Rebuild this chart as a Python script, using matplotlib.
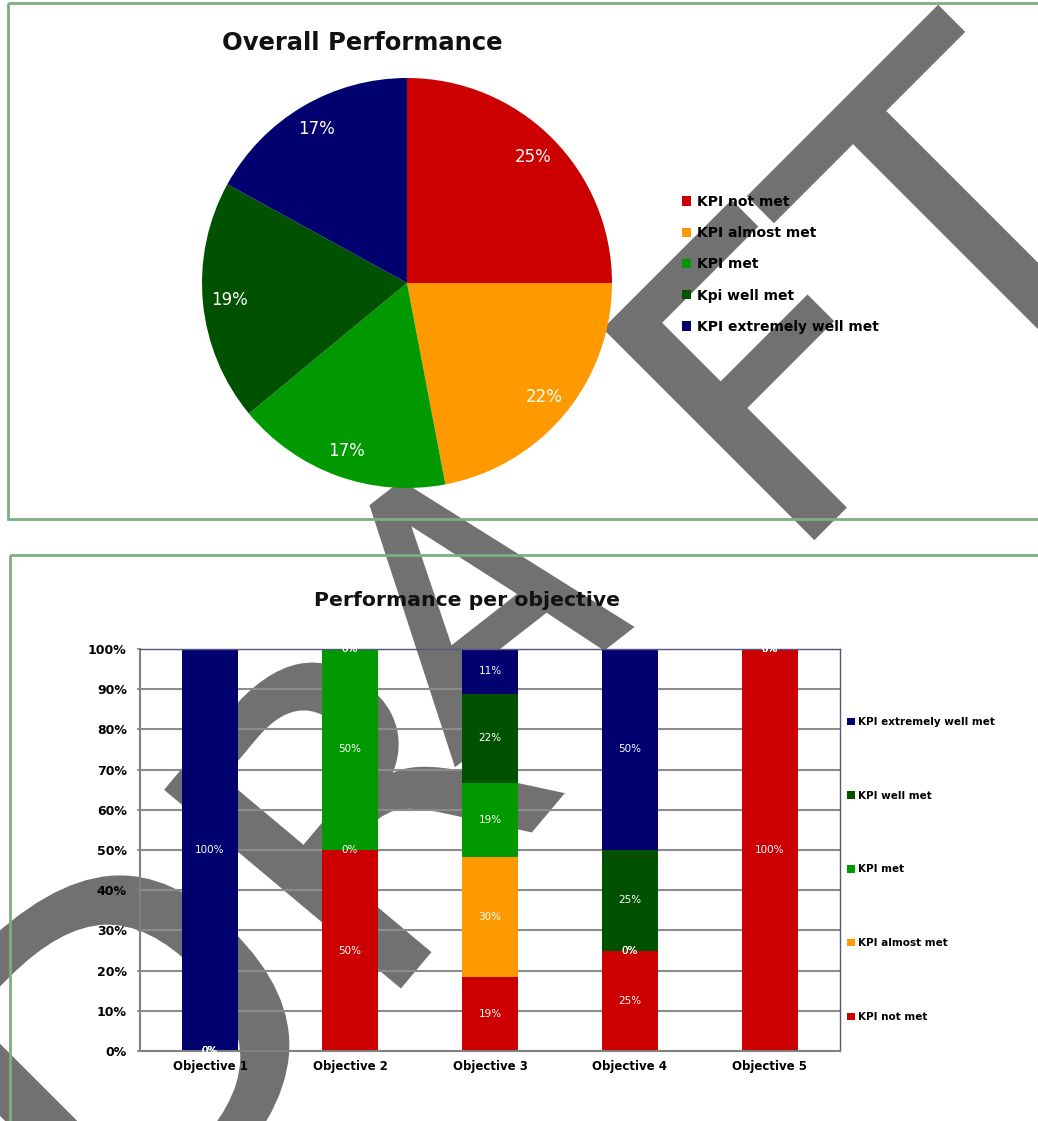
import matplotlib
matplotlib.use("Agg")
import matplotlib.pyplot as plt
import numpy as np
from matplotlib.font_manager import FontProperties
from matplotlib.patches import Patch, PathPatch, Rectangle
from matplotlib.textpath import TextPath
from matplotlib.transforms import Affine2D

# ------------------------------------------------------------
# Data
# ------------------------------------------------------------
kpi_labels = ["KPI not met", "KPI almost met", "KPI met", "Kpi well met", "KPI extremely well met"]
bar_kpi_labels = ["KPI not met", "KPI almost met", "KPI met", "KPI well met", "KPI extremely well met"]
kpi_colors = ["#cc0000", "#ff9900", "#009900", "#005200", "#00006e"]

# overall share of KPIs per status (%)
overall_share = [25, 22, 17, 19, 17]

objectives = ["Objective 1", "Objective 2", "Objective 3", "Objective 4", "Objective 5"]
not_met = [0, 50, 18.52, 25, 100]
almost_met = [0, 0, 29.63, 0, 0]
met = [0, 50, 18.52, 0, 0]
well_met = [0, 0, 22.22, 25, 0]
extremely_well_met = [100, 0, 11.11, 50, 0]

y_ticks = [0, 10, 20, 30, 40, 50, 60, 70, 80, 90, 100]

W, H = 1038, 1121
WM_COLOR = "#717171"
BORDER = "#7fae7f"


def draw_letter(ax, ch, cx, cy, height, angle, stretch=1.05):
    """Big rotated glyph placed in pixel coordinates (y down)."""
    tp = TextPath((0, 0), ch, size=100, prop=FontProperties(family="DejaVu Sans"))
    ext = tp.get_extents()
    s = height / ext.height
    tr = (
        Affine2D()
        .translate(-(ext.x0 + ext.width / 2), -(ext.y0 + ext.height / 2))
        .scale(s * stretch, s)
        .rotate_deg(angle)
        .scale(1, -1)
        .translate(cx, cy)
    )
    ax.add_patch(PathPatch(tr.transform_path(tp), facecolor=WM_COLOR,
                           edgecolor=WM_COLOR, lw=3, joinstyle="miter", zorder=1))


fig = plt.figure(figsize=(W / 100, H / 100), dpi=100)
fig.patch.set_facecolor("white")

# ------------------------------------------------------------
# Page background: watermark + panel frames
# ------------------------------------------------------------
bg = fig.add_axes([0, 0, 1, 1], zorder=-5)
bg.set_xlim(0, W)
bg.set_ylim(H, 0)
bg.axis("off")

# (letter, centre x, centre y, height px, angle, horizontal stretch)
watermark = [
    ("D", 129, 1036, 330, 45, 1.05),
    ("R", 364, 792, 305, 50, 1.05),
    ("A", 465, 595, 255, 38, 0.95),
    ("F", 773, 370, 295, 45, 1.05),
    ("T", 950, 208, 300, 45, 1.05),
]
for ch, cx, cy, h, ang, st in watermark:
    draw_letter(bg, ch, cx, cy, h, ang, st)

bg.add_patch(Rectangle((8, 3), 1045, 516, fill=False, edgecolor=BORDER, lw=2, zorder=3))
bg.add_patch(Rectangle((10, 555), 1045, 600, fill=False, edgecolor=BORDER, lw=2, zorder=3))

# ------------------------------------------------------------
# Pie: overall performance
# ------------------------------------------------------------
ax1 = fig.add_axes([(407 - 205) / W, 1 - (283 + 205) / H, 410 / W, 410 / H])
ax1.pie(
    overall_share,
    colors=kpi_colors,
    startangle=90,
    counterclock=False,
    autopct="%.0f%%",
    pctdistance=0.87,
    textprops=dict(color="white", fontsize=12),
    wedgeprops=dict(linewidth=0),
)
ax1.set_xlim(-1, 1)
ax1.set_ylim(-1, 1)
ax1.set_aspect("equal")
ax1.patch.set_alpha(0)

fig.text(362 / W, 1 - 43 / H, "Overall Performance", ha="center", va="center",
         fontsize=17.5, fontweight="bold", color="#111111")

pie_handles = [Patch(facecolor=c, edgecolor="none", label=l) for c, l in zip(kpi_colors, kpi_labels)]
ax1.legend(
    handles=pie_handles,
    loc="upper left",
    bbox_to_anchor=(682 / W, 1 - 195 / H),
    bbox_transform=fig.transFigure,
    frameon=False,
    prop=dict(size=10, weight="bold"),
    handlelength=0.65,
    handleheight=0.65,
    handletextpad=0.4,
    labelspacing=1.24,
    borderpad=0,
    borderaxespad=0,
)

# ------------------------------------------------------------
# Stacked bars: performance per objective
# ------------------------------------------------------------
ax2 = fig.add_axes([140 / W, 1 - 1051 / H, 700 / W, 402 / H])
ax2.patch.set_alpha(0)

series = [not_met, almost_met, met, well_met, extremely_well_met]
x = np.arange(len(objectives))
bottom = np.zeros(len(objectives))
for vals, color, lab in zip(series, kpi_colors, bar_kpi_labels):
    vals = np.asarray(vals, dtype=float)
    ax2.bar(x, vals, 0.4, bottom=bottom, color=color, label=lab, zorder=2, linewidth=0)
    for xi, b, v in zip(x, bottom, vals):
        ax2.text(xi, b + v / 2, f"{v:.0f}%", ha="center", va="center",
                 color="white", fontsize=7.5, zorder=3)
    bottom += vals

ax2.set_xlim(-0.5, len(objectives) - 0.5)
ax2.set_ylim(0, 100)
ax2.set_yticks(y_ticks)
ax2.set_yticklabels([f"{t}%" for t in y_ticks], fontsize=9, fontweight="bold")
ax2.set_xticks(x)
ax2.set_xticklabels(objectives, fontsize=8.5, fontweight="bold")
ax2.tick_params(axis="x", length=0, pad=6.5)
ax2.tick_params(axis="y", length=2.5, color="#808080", width=1.2, pad=7)
ax2.yaxis.grid(True, color="#8c8c8c", lw=1.5, zorder=0)
ax2.set_axisbelow(True)
for side in ("left", "bottom"):
    ax2.spines[side].set_color("#808080")
    ax2.spines[side].set_linewidth(1.5)
for side in ("top", "right"):
    ax2.spines[side].set_color("#55557f")
    ax2.spines[side].set_linewidth(1)

fig.text(467 / W, 1 - 601 / H, "Performance per objective", ha="center", va="center",
         fontsize=14.7, fontweight="bold", color="#111111")

h2, l2 = ax2.get_legend_handles_labels()
ax2.legend(
    h2[::-1], l2[::-1],
    loc="upper left",
    bbox_to_anchor=(847 / W, 1 - 717 / H),
    bbox_transform=fig.transFigure,
    frameon=False,
    prop=dict(size=7.5, weight="bold"),
    handlelength=0.75,
    handleheight=0.75,
    handletextpad=0.3,
    labelspacing=6.12,
    borderpad=0,
    borderaxespad=0,
)

fig.savefig("out.png", dpi=100)
